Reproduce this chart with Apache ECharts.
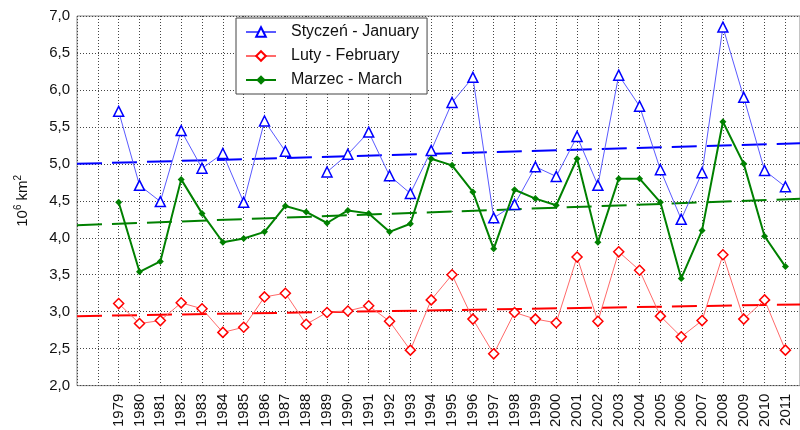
<!DOCTYPE html>
<html>
<head>
<meta charset="utf-8">
<script src="https://cdn.jsdelivr.net/npm/echarts@6/dist/echarts.min.js"></script>
<style>
  html, body { margin: 0; padding: 0; background: #fff; }
  #chart { width: 800px; height: 430px; }
</style>
</head>
<body>
<div id="chart"></div>
<script>
const years = [1979, 1980, 1981, 1982, 1983, 1984, 1985, 1986, 1987, 1988, 1989,
  1990, 1991, 1992, 1993, 1994, 1995, 1996, 1997, 1998, 1999, 2000,
  2001, 2002, 2003, 2004, 2005, 2006, 2007, 2008, 2009, 2010, 2011]

// January has no value for 1988
const january = [5.71, 4.71, 4.49, 5.45, 4.94, 5.14, 4.48, 5.58, 5.17, null, 4.89,
  5.13, 5.43, 4.84, 4.60, 5.18, 5.83, 6.17, 4.27, 4.45, 4.96, 4.83,
  5.37, 4.71, 6.20, 5.78, 4.92, 4.25, 4.88, 6.85, 5.90, 4.91, 4.69]
const february = [3.11, 2.84, 2.88, 3.12, 3.04, 2.72, 2.79, 3.20, 3.25, 2.83, 2.99,
  3.01, 3.08, 2.87, 2.48, 3.16, 3.50, 2.90, 2.43, 2.99, 2.90, 2.85,
  3.74, 2.87, 3.81, 3.56, 2.94, 2.66, 2.88, 3.77, 2.90, 3.16, 2.48]
const march = [4.48, 3.54, 3.68, 4.79, 4.33, 3.94, 3.99, 4.08, 4.43, 4.35, 4.20,
  4.37, 4.33, 4.08, 4.19, 5.07, 4.98, 4.62, 3.85, 4.65, 4.53, 4.44,
  5.07, 3.94, 4.80, 4.80, 4.48, 3.45, 4.10, 5.57, 5.00, 4.02, 3.61]

// linear trends, start and end
const trendYears = [1977, 2012]
const januaryTrend = [5.00, 5.28]
const februaryTrend = [2.94, 3.10]
const marchTrend = [4.17, 4.53]

const yTicks = [2, 2.5, 3, 3.5, 4, 4.5, 5, 5.5, 6, 6.5, 7]

function pairs(xs, ys) {
  return xs.map((x, i) => [x, ys[i]])
}

const font = 'Liberation Sans, Arial, sans-serif'
const chart = echarts.init(document.getElementById('chart'))

function monthSeries(name, values, color, lineColor, symbol, size, filled, width) {
  return {
    name: name,
    type: 'line',
    data: pairs(years, values),
    connectNulls: false,
    symbol: symbol,
    symbolSize: size,
    showAllSymbol: true,
    lineStyle: { color: lineColor, width: width },
    itemStyle: {
      color: filled ? color : '#fff',
      borderColor: color,
      borderWidth: filled ? 0 : 1.5
    },
    emphasis: { disabled: true },
    z: 3
  }
}

function trendSeries(values, color) {
  return {
    name: 'trend',
    type: 'line',
    data: pairs(trendYears, values),
    symbol: 'none',
    lineStyle: { color: color, width: 2, type: [25, 10] },
    emphasis: { disabled: true },
    z: 2
  }
}

const gridLine = { show: true, lineStyle: { color: '#444', type: [1, 2], width: 1 } }

chart.setOption({
  backgroundColor: '#fff',
  animation: false,
  grid: {
    left: 77, top: 16, right: 0, bottom: 43,
    show: true, borderColor: '#888', borderWidth: 1
  },
  legend: {
    data: ['Styczeń - January', 'Luty - February', 'Marzec - March'],
    orient: 'vertical',
    left: 236, top: 18,
    backgroundColor: '#fff',
    borderColor: '#444', borderWidth: 1, borderRadius: 0,
    padding: [6, 8, 6, 9],
    itemWidth: 30, itemHeight: 12, itemGap: 8,
    textStyle: { fontFamily: font, fontSize: 16, color: '#111', padding: [0, 0, 0, 10] }
  },
  xAxis: {
    type: 'value',
    min: 1977, max: 2011.7, interval: 1,
    axisLine: { show: false },
    axisTick: { show: false },
    axisLabel: {
      rotate: 90,
      margin: 8,
      fontFamily: font, fontSize: 15, color: '#111',
      formatter: v => (years.indexOf(v) >= 0 ? String(v) : '')
    },
    splitLine: gridLine
  },
  yAxis: {
    type: 'value',
    min: 2, max: 7, interval: 0.5,
    name: '{a|10}{s|6}{a| km}{s|2}',
    nameLocation: 'middle',
    nameGap: 44,
    nameTextStyle: {
      rich: {
        a: { fontFamily: font, fontSize: 15, color: '#111', lineHeight: 20 },
        s: { fontFamily: font, fontSize: 10, color: '#111', lineHeight: 20, verticalAlign: 'top', padding: [0, 0, 12, 0] }
      }
    },
    axisLine: { show: false },
    axisTick: { show: false },
    axisLabel: {
      margin: 7,
      fontFamily: font, fontSize: 15, color: '#111',
      formatter: v => (yTicks.indexOf(v) >= 0 ? v.toFixed(1).replace('.', ',') : '')
    },
    splitLine: gridLine
  },
  series: [
    trendSeries(januaryTrend, '#0000ff'),
    trendSeries(februaryTrend, '#ff0000'),
    trendSeries(marchTrend, '#008000'),
    monthSeries('Styczeń - January', january, '#0000ff', '#5a5aff', 'triangle', 10, false, 1),
    monthSeries('Luty - February', february, '#ff0000', '#ff6a6a', 'diamond', 10, false, 1),
    monthSeries('Marzec - March', march, '#008000', '#008000', 'diamond', 7, true, 2)
  ]
})
</script>
</body>
</html>
